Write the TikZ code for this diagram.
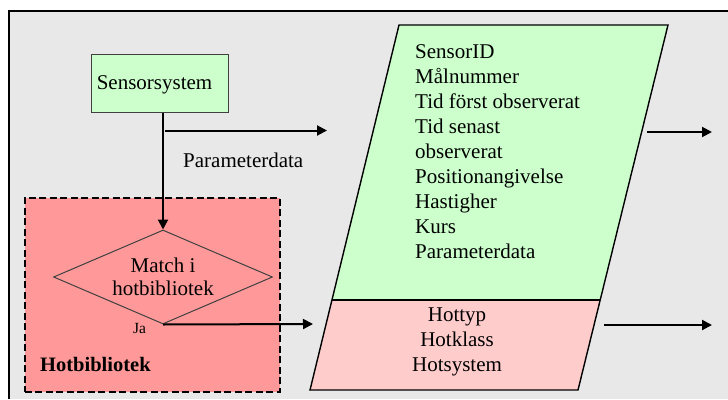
\documentclass[tikz,border=0pt]{standalone}
\usepackage{fontspec}
\setmainfont{Liberation Serif}
\newfontfamily\tnr{Liberation Serif}
\usetikzlibrary{shapes.geometric,arrows.meta}
\definecolor{bggray}{HTML}{E8E8E8}
\definecolor{lgreen}{HTML}{CCFFCC}
\definecolor{hotred}{HTML}{FF9999}
\definecolor{lpink}{HTML}{FFCCCC}
\definecolor{edgegray}{HTML}{404040}
\tikzset{
  txt/.style={font=\tnr\fontsize{21}{25}\selectfont, text=black, inner sep=0pt},
  smalltxt/.style={font=\tnr\fontsize{15.5}{18}\selectfont, text=black, inner sep=0pt},
  arr/.style={line width=2pt, -{Triangle[length=10pt,width=10pt]}},
  thinbox/.style={draw=edgegray, line width=1pt},
}
\begin{document}
\begin{tikzpicture}[x=1pt,y=-1pt]
\useasboundingbox (0,0) rectangle (728,399);
% background frame
\fill[bggray] (9,11) rectangle (728,399);
\draw[line width=1.2pt] (9,399) -- (9,11) -- (728,11);
% Hotbibliotek dashed box
\node[draw, dash pattern=on 7pt off 3.5pt, line width=1.6pt, fill=hotred, minimum width=255pt, minimum height=194pt, inner sep=0pt, anchor=north west] (lib) at (24,197) {};
\node[txt, font=\tnr\fontsize{20.5}{25}\selectfont\bfseries, anchor=base west] (libtitle) at (40,371) {Hotbibliotek};
% Sensorsystem
\node[thinbox, fill=lgreen, minimum width=137pt, minimum height=58pt, inner sep=0pt, anchor=north west] (sensor) at (91,54) {};
\node[txt, anchor=base] (sensortxt) at (154.5,89.5) {Sensorsystem};
% diamond
\node[thinbox, diamond, minimum width=219pt, minimum height=94pt, inner sep=0pt] (match) at (163,277) {};
\node[txt, anchor=base] (m1) at (163,272) {Match i};
\node[txt, anchor=base] (m2) at (163,295) {hotbibliotek};
\node[smalltxt, anchor=base west] (ja) at (133,333) {Ja};
% parallelogram
\coordinate (p1) at (399,25);
\coordinate (p2) at (668,25);
\coordinate (p3) at (600,300);
\coordinate (p4) at (332,300);
\coordinate (p5) at (578,390);
\coordinate (p6) at (310,390);
\fill[lgreen] (p1) -- (p2) -- (p3) -- (p4) -- cycle;
\fill[lpink] (p4) -- (p3) -- (p5) -- (p6) -- cycle;
\draw[line width=1.4pt] (p1) -- (p2) -- (p5) -- (p6) -- cycle;
\draw[line width=1.4pt] (p4) -- (p3);
% green text
\foreach \t [count=\i from 0] in {SensorID, Målnummer, Tid först observerat, Tid senast, observerat, Positionangivelse, Hastigher, Kurs, Parameterdata}{
  \node[txt, anchor=base west] (g\i) at (415,58+25.05*\i) {\t};
}
% pink text
\node[txt, anchor=base] (h1) at (457,321) {Hottyp};
\node[txt, anchor=base] (h2) at (457,346) {Hotklass};
\node[txt, anchor=base] (h3) at (457,371) {Hotsystem};
% connectors
\coordinate (branch) at (165,130.5);
\coordinate (paramend) at (327,130.5);
\coordinate (jaend) at (313,324);
\coordinate (out1s) at (647,132);
\coordinate (out1e) at (712,132);
\coordinate (out2s) at (604,325);
\coordinate (out2e) at (712,325);
\draw[arr] (sensor.south -| match.north) -- (match.north);
\draw[arr] (branch) -- (paramend);
\node[txt, anchor=base west] (paramtxt) at (183,167) {Parameterdata};
\draw[arr] (match.south) -- (jaend);
\draw[arr] (out1s) -- (out1e);
\draw[arr] (out2s) -- (out2e);
\end{tikzpicture}
\end{document}
